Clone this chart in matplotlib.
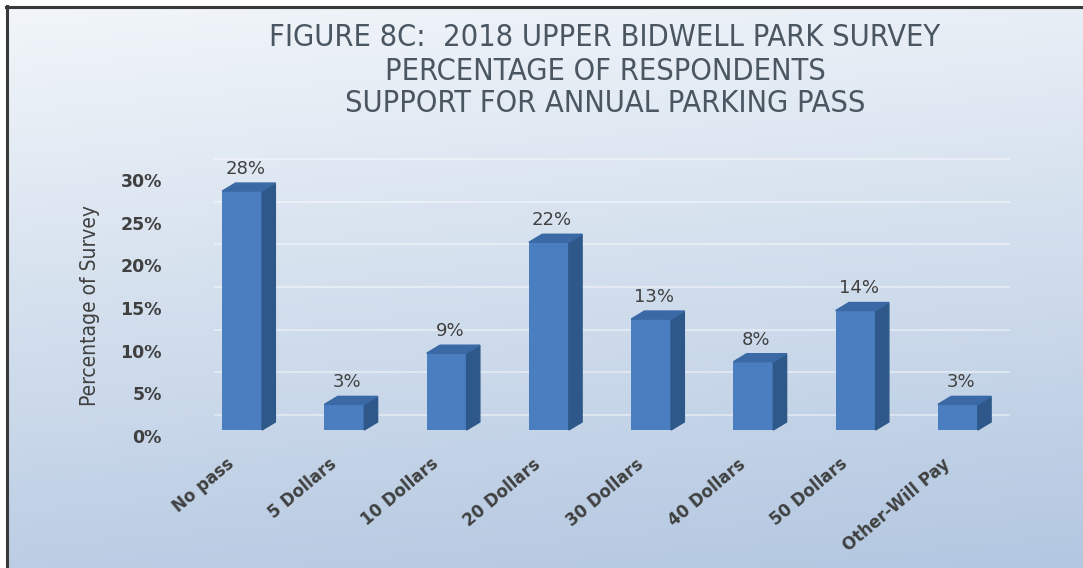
import matplotlib
matplotlib.use("Agg")
import matplotlib.pyplot as plt
import matplotlib.transforms as mtransforms
from matplotlib.patches import Polygon
from matplotlib.lines import Line2D
import numpy as np

categories = ["No pass", "5 Dollars", "10 Dollars", "20 Dollars", "30 Dollars",
              "40 Dollars", "50 Dollars", "Other-Will Pay"]
values = [28, 3, 9, 22, 13, 8, 14, 3]
labels = ["28%", "3%", "9%", "22%", "13%", "8%", "14%", "3%"]
yticks = [0, 5, 10, 15, 20, 25, 30]
ytick_labels = ["0%", "5%", "10%", "15%", "20%", "25%", "30%"]

title_color = "#4a5661"
text_color = "#404040"

fig = plt.figure(figsize=(10.83, 5.68), dpi=100)

# background gradient (light at top, blue at bottom)
bg = fig.add_axes([0, 0, 1, 1], zorder=-10)
yy = np.linspace(0, 1, 200)[:, None]
xx = np.linspace(0, 1, 300)[None, :]
t = np.clip(0.85 * yy + 0.15 * xx, 0, 1)
top = np.array([0.95, 0.965, 0.98])
bot = np.array([0.70, 0.78, 0.88])
img = top[None, None, :] * (1 - t[..., None]) + bot[None, None, :] * t[..., None]
bg.imshow(img, aspect="auto", extent=[0, 1, 0, 1], origin="upper")
bg.axis("off")
bg.set_xlim(0, 1)
bg.set_ylim(0, 1)
bg.add_patch(plt.Rectangle((0, 1 - 5 / 568), 1, 5 / 568, color="white", zorder=2))
bg.add_patch(plt.Rectangle((0, 0), 5 / 1083, 1, color="white", zorder=2))
fig.add_artist(Line2D([6 / 1083, 1], [1 - 6.5 / 568] * 2, color="#3a3a3a", lw=2.2))
fig.add_artist(Line2D([6.5 / 1083] * 2, [0, 1 - 6 / 568], color="#3a3a3a", lw=2.2))

ax = fig.add_axes([191 / 1083, 138 / 568, 818 / 1083, 256 / 568])
ax.set_facecolor("none")
x = np.arange(len(categories))
ax.set_xlim(-0.5, len(categories) - 0.5)
ax.set_ylim(0, 30)

# back-wall gridlines, shifted up/right for depth
grid_off = mtransforms.ScaledTranslation(0.08, 0.15, fig.dpi_scale_trans)
for v in yticks:
    ax.add_line(Line2D([0.02, 0.99], [v, v], transform=ax.get_yaxis_transform() + grid_off,
                       color="white", lw=1.3, alpha=0.45, zorder=0, clip_on=False))

width = 0.39
dx = 0.13
dy = 0.94
front_c = "#4a7ec0"
side_c = "#2d5889"
top_c = "#3a69a6"
ax.bar(x, values, width=width, color=front_c, zorder=3)
for xi, v, lab in zip(x, values, labels):
    l, r = xi - width / 2, xi + width / 2
    ax.add_patch(Polygon([(r, 0), (r + dx, dy), (r + dx, v + dy), (r, v)],
                         closed=True, color=side_c, zorder=3, clip_on=False))
    ax.add_patch(Polygon([(l, v), (r, v), (r + dx, v + dy), (l + dx, v + dy)],
                         closed=True, color=top_c, zorder=3, clip_on=False))
    ax.text(xi + 0.03, v + dy + 0.6, lab, ha="center", va="bottom", fontsize=13,
            color=text_color, clip_on=False)

for s in ax.spines.values():
    s.set_visible(False)
ax.tick_params(length=0)
ax.set_yticks(yticks)
ax.set_yticklabels(ytick_labels, fontsize=12.5, fontweight="semibold", color=text_color)
ax.tick_params(axis="y", pad=21)
yoff = mtransforms.ScaledTranslation(0, -0.06, fig.dpi_scale_trans)
for lbl in ax.get_yticklabels():
    lbl.set_transform(lbl.get_transform() + yoff)

ax.set_xticks(x)
ax.set_xticklabels(categories, rotation=40, ha="right", rotation_mode="anchor",
                   fontsize=12, fontweight="semibold", color=text_color)
ax.tick_params(axis="x", pad=18)
xoff = mtransforms.ScaledTranslation(-0.16, 0, fig.dpi_scale_trans)
for lbl in ax.get_xticklabels():
    lbl.set_transform(lbl.get_transform() + xoff)

fig.text(90 / 1083, 1 - 306 / 568, "Percentage of Survey", rotation=90, ha="center",
         va="center", fontsize=15, color=text_color, fontstretch="condensed")

title_lines = ["FIGURE 8C:  2018 UPPER BIDWELL PARK SURVEY",
               "PERCENTAGE OF RESPONDENTS",
               "SUPPORT FOR ANNUAL PARKING PASS"]
for line, ypix in zip(title_lines, [37, 71, 104]):
    fig.text(605 / 1083, 1 - ypix / 568, line, ha="center", va="center", fontsize=22,
             color=title_color, fontstretch="condensed", fontweight="medium")

fig.savefig("out.png", dpi=100)
